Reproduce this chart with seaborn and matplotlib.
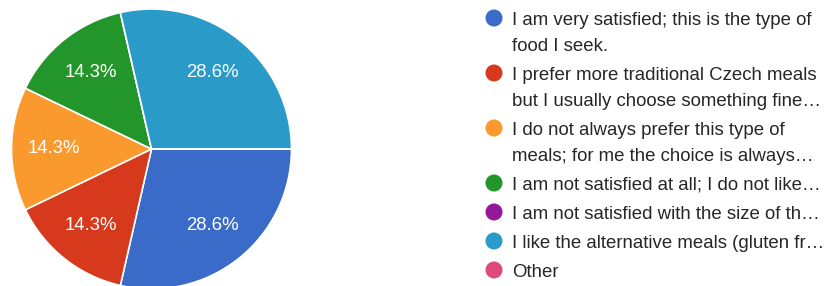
import matplotlib
matplotlib.use("Agg")
import matplotlib.pyplot as plt
import seaborn as sns

# ---- data ----
categories = [
    ["I am very satisfied; this is the type of", "food I seek."],
    ["I prefer more traditional Czech meals", "but I usually choose something fine\u2026"],
    ["I do not always prefer this type of", "meals; for me the choice is always\u2026"],
    ["I am not satisfied at all; I do not like\u2026"],
    ["I am not satisfied with the size of th\u2026"],
    ["I like the alternative meals (gluten fr\u2026"],
    ["Other"],
]
counts = [2, 1, 1, 1, 0, 2, 0]
colors = ["#3a6bc9", "#d6391c", "#fa9a2e", "#22962a", "#93189a", "#2a9bc8", "#de4a7c"]

sns.set_theme(style="white")
plt.rcParams["font.family"] = ["Liberation Sans", "DejaVu Sans"]

W, H = 831, 286
fig = plt.figure(figsize=(W / 100, H / 100), dpi=100)
fig.patch.set_facecolor("white")

# pie axes (center ~ (151.5,149), radius ~140 px)
cx, cy, r = 151.5, 149, 140
ax = fig.add_axes([(cx - r) / W, (H - cy - r) / H, 2 * r / W, 2 * r / H])
wedges, texts, autotexts = ax.pie(
    counts,
    colors=colors,
    startangle=0,
    counterclock=False,
    autopct=lambda p: f"{p:.1f}%" if p > 0 else "",
    pctdistance=0.70,
    wedgeprops=dict(edgecolor="white", linewidth=1.2),
    textprops=dict(color="white", fontsize=13.4),
)
ax.set_xlim(-1, 1)
ax.set_ylim(-1, 1)
ax.set_aspect("equal")
ax.axis("off")

# legend axes in pixel coordinates
lax = fig.add_axes([0, 0, 1, 1])
lax.set_xlim(0, W)
lax.set_ylim(H, 0)
lax.axis("off")
lax.patch.set_alpha(0)

y = 18
line_pitch = 26
item_gap = 29
for lines, col in zip(categories, colors):
    lax.scatter([494], [y], s=150, color=col, edgecolors="none", zorder=3)
    yy = y
    for ln in lines:
        lax.text(512, yy + 6.7, ln, fontsize=13.4, color="#262626", va="baseline", ha="left")
        yy += line_pitch
    y = yy - line_pitch + item_gap

fig.savefig("out.png", dpi=100, facecolor="white")
